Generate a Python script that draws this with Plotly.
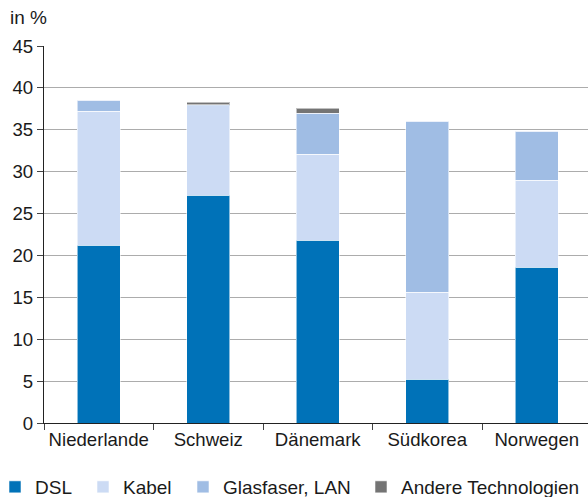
import plotly.graph_objects as go

categories = ["Niederlande", "Schweiz", "Dänemark", "Südkorea", "Norwegen"]
dsl = [21.2, 27.2, 21.8, 5.25, 18.6]
kabel = [16.0, 10.65, 10.3, 10.35, 10.4]
glasfaser = [1.3, 0.15, 4.9, 20.4, 5.8]
andere = [0.0, 0.3, 0.6, 0.0, 0.1]
series_names = ["DSL", "Kabel", "Glasfaser, LAN", "Andere Technologien"]
series_colors = ["#0072b8", "#ccdbf4", "#a0bde4", "#747474"]
y_ticks = [0, 5, 10, 15, 20, 25, 30, 35, 40, 45]

FONT = "Liberation Sans, Arial, sans-serif"
W, H = 588, 497
ML, MR, MT, MB = 44, 0, 46, 74
plot_w = W - ML - MR
plot_h = H - MT - MB

fig = go.Figure()
legend_text_x = [34, 122, 222, 400]
legend_ids = ["legend", "legend2", "legend3", "legend4"]
for i, (name, vals, col) in enumerate(zip(series_names, [dsl, kabel, glasfaser, andere], series_colors)):
    fig.add_trace(go.Bar(
        x=categories, y=vals, name=name,
        marker=dict(color=col, line=dict(color="rgba(255,255,255,0.55)", width=1)),
        width=0.39, legend=legend_ids[i],
    ))

layout_legends = {}
for i, lid in enumerate(legend_ids):
    px = legend_text_x[i] - 39
    layout_legends[lid] = dict(
        x=(px - ML) / plot_w, xanchor="left",
        y=(423 - 487) / plot_h, yanchor="middle",
        font=dict(family=FONT, size=19, color="#1a1a1a"),
        bgcolor="rgba(0,0,0,0)", borderwidth=0, itemwidth=30,
        orientation="h",
    )

fig.update_layout(
    width=W, height=H,
    margin=dict(l=ML, r=MR, t=MT, b=MB, autoexpand=False),
    barmode="stack",
    plot_bgcolor="white", paper_bgcolor="white",
    font=dict(family=FONT, size=18.6, color="#1a1a1a"),
    showlegend=True,
    **layout_legends,
    xaxis=dict(
        range=[-0.5, 4.468], automargin=False,
        showline=True, linecolor="#222", linewidth=1.3,
        ticks="outside", tickson="boundaries", ticklen=6, tickcolor="#444",
        tickfont=dict(family=FONT, size=18.6, color="#1a1a1a"),
        showgrid=False,
    ),
    yaxis=dict(
        range=[0, 45], tickvals=y_ticks, automargin=False,
        showline=True, linecolor="#222", linewidth=1.3,
        ticks="outside", ticklen=6, tickcolor="#444",
        tickfont=dict(family=FONT, size=18.6, color="#1a1a1a"),
        showgrid=True, gridcolor="#acacac", gridwidth=1.2,
        zeroline=False,
    ),
    annotations=[dict(
        text="in %", xref="paper", yref="paper",
        x=(8 - ML) / plot_w, y=1 + 29 / plot_h,
        xanchor="left", yanchor="middle", showarrow=False,
        font=dict(family=FONT, size=19, color="#1a1a1a"),
    )],
)

fig.write_html("out.html", config={"displayModeBar": False},
               post_script="document.body.style.margin='0px';")
